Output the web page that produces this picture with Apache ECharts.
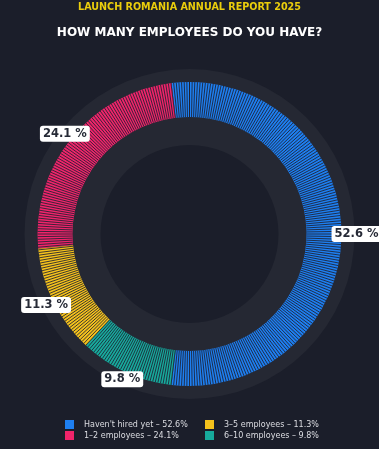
<!DOCTYPE html>
<html><head><meta charset="utf-8">
<style>html,body{margin:0;padding:0;background:#1b1e2a;}#c{width:379px;height:449px;}</style>
<script src="https://cdn.jsdelivr.net/npm/echarts@6/dist/echarts.min.js"></script>
</head><body><div id="c"></div><script>
const categories = ["Haven't hired yet", "1–2 employees", "3–5 employees", "6–10 employees"];
const values = [52.6, 24.1, 11.3, 9.8];
const colors = ['#1e7ff0', '#f0246a', '#f5c21c', '#17aa9c'];

const total = values.reduce((a, b) => a + b, 0);
const firstSpan = values[0] / total * 360;
const startAngle = -firstSpan / 2;
const center = ['50%', 234];
const FONT = 'DejaVu Sans';

const mainData = categories.map((n, i) => ({ name: n, value: values[i], itemStyle: { color: colors[i] } }));
const labelData = categories.map((n, i) => ({
  name: n, value: values[i], itemStyle: { color: 'rgba(0,0,0,0)' },
  label: i === 0 ? { offset: [7, 0] } : {}
}));

const chart = echarts.init(document.getElementById('c'), null, { renderer: 'canvas' });
const legendText = {
  color: '#dcdde2', fontSize: 8, fontFamily: FONT, padding: [0, 0, 0, 5]
};
const fmt = name => name + ' – ' + values[categories.indexOf(name)] + '%';
chart.setOption({
  backgroundColor: '#1b1e2a',
  animation: false,
  title: [
    { text: 'LAUNCH ROMANIA ANNUAL REPORT 2025', left: 'center', top: 2.5, padding: 0,
      textStyle: { color: '#eacd0c', fontSize: 9.6, fontWeight: 'bold', fontFamily: FONT } },
    { text: 'HOW MANY EMPLOYEES DO YOU HAVE?', left: 'center', top: 26.5, padding: 0,
      textStyle: { color: '#ffffff', fontSize: 12, fontWeight: 'bold', fontFamily: FONT } }
  ],
  legend: [
    { data: categories.slice(0, 2), orient: 'vertical', left: 65, top: 420, padding: 0,
      itemWidth: 9, itemHeight: 9, itemGap: 2, icon: 'rect', textStyle: legendText, formatter: fmt, selectedMode: false },
    { data: categories.slice(2), orient: 'vertical', left: 205, top: 420, padding: 0,
      itemWidth: 9, itemHeight: 9, itemGap: 2, icon: 'rect', textStyle: legendText, formatter: fmt, selectedMode: false }
  ],
  series: [
    { type: 'pie', silent: true, center, radius: [89, 165], label: { show: false }, labelLine: { show: false },
      data: [{ value: 1, itemStyle: { color: '#252833' } }], legendHoverLink: false, z: 1 },
    { type: 'pie', name: 'main', silent: true, center, radius: [117, 152], startAngle, clockwise: false,
      label: { show: false }, labelLine: { show: false }, data: mainData, z: 2 },
    { type: 'gauge', silent: true, center, radius: 152, startAngle: 90, endAngle: -270, min: 0, max: 100,
      splitNumber: 360, z: 3,
      axisLine: { show: false, lineStyle: { width: 0 } },
      splitLine: { show: true, length: 35, distance: 0, lineStyle: { color: '#1d2030', width: 1, opacity: 0.85 } },
      axisTick: { show: false }, axisLabel: { show: false }, pointer: { show: false },
      anchor: { show: false }, title: { show: false }, detail: { show: false }, progress: { show: false },
      data: [{ value: 0 }] },
    { type: 'pie', silent: true, center, radius: [150, 164], startAngle, clockwise: false, z: 4,
      labelLine: { show: false },
      label: { show: true, position: 'inside', formatter: '{c} %', color: '#262a36', fontFamily: FONT,
        fontWeight: 'bold', fontSize: 11.5, lineHeight: 12, backgroundColor: '#ffffff', borderRadius: 3,
        padding: [2, 3] },
      data: labelData }
  ]
});
</script></body></html>
